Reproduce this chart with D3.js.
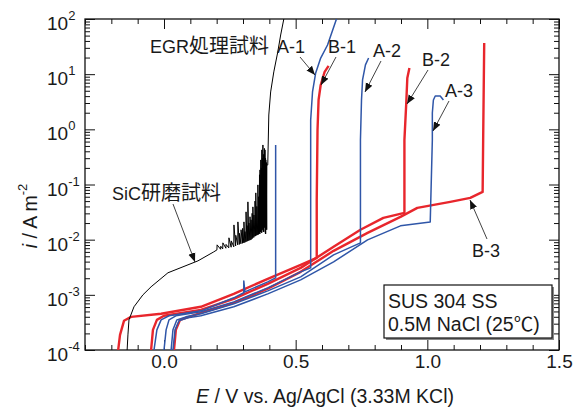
<!DOCTYPE html>
<html><head><meta charset="utf-8">
<script src="https://cdn.jsdelivr.net/npm/d3@7"></script>
<style>
body{margin:0;background:#fff}
text{font-family:"Liberation Sans",Arial,"Noto Sans CJK JP",sans-serif;fill:#1a1a1a}
</style>
</head><body><svg id="c" width="579" height="407"></svg>
<script>
// ---------- data (E / V, i / A m^-2) ----------
const xTicks = [0.0, 0.5, 1.0, 1.5];
const xTickLabels = ["0.0", "0.5", "1.0", "1.5"];
const yExponents = [-4, -3, -2, -1, 0, 1, 2];

// SiC polished sample (black)
const sicBase = [[-0.140,1.0e-4],[-0.137,1.88e-4],[-0.133,3.52e-4],[-0.114,6.07e-4],[-0.080,1.0e-3],[-0.049,1.40e-3],[0.015,2.51e-3],[0.129,4.13e-3],[0.189,6.01e-3]];
const sicNoiseE    = [0.201,0.215,0.223,0.235,0.246,0.255,0.265,0.272,0.280,0.286,0.292,0.298,0.303,0.307,0.311,0.315,0.318,0.322,0.326,0.330,0.334,0.337,0.341,0.345,0.348,0.352,0.356,0.359,0.362,0.364,0.366,0.367,0.369,0.371,0.373,0.375,0.377,0.379,0.381,0.383,0.385,0.386,0.388,0.390];
const sicNoiseBase = [6.53e-3,6.7e-3,6.81e-3,7.0e-3,7.10e-3,7.3e-3,7.41e-3,7.7e-3,8.05e-3,8.2e-3,8.40e-3,8.6e-3,8.75e-3,8.9e-3,9.12e-3,9.3e-3,9.51e-3,9.6e-3,9.8e-3,9.91e-3,1.03e-2,1.08e-2,1.1e-2,1.15e-2,1.17e-2,1.2e-2,1.22e-2,1.25e-2,1.3e-2,1.27e-2,1.4e-2,1.38e-2,1.5e-2,1.33e-2,1.6e-2,1.51e-2,1.4e-2,1.38e-2,1.7e-2,1.64e-2,1.3e-2,1.27e-2,1.6e-2,1.51e-2];
const sicNoisePeak = [8.05e-3,7.6e-3,8.75e-3,8.2e-3,1.08e-2,9.5e-3,1.85e-2,1.2e-2,2.10e-2,1.3e-2,1.51e-2,1.6e-2,2.10e-2,1.4e-2,3.19e-2,1.8e-2,4.84e-2,2.0e-2,2.6e-2,2.29e-2,3.0e-2,3.93e-2,2.8e-2,5.0e-2,7.05e-2,4.0e-2,9.84e-2,6.0e-2,0.15,0.184,0.12,0.279,0.2,0.424,0.3,0.521,0.35,0.344,0.45,0.424,0.3,0.279,0.25,0.226];
const sicRise = [[0.394,0.226],[0.398,1.82],[0.405,4.76],[0.417,11.0],[0.432,25.2],[0.443,51.3],[0.455,100]];

// EGR treated samples
const A0 = [[-0.038,1.0e-4],[-0.027,2.32e-4],[-0.011,3.52e-4],[0.019,4.17e-4],[0.140,5.13e-4],[0.265,8.83e-4],[0.303,1.09e-3],[0.303,1.79e-3],[0.307,1.13e-3],[0.394,1.72e-3],[0.424,2.03e-3],[0.424,0.521]];
const A1 = [[0.000,1.0e-4],[0.008,2.32e-4],[0.019,3.52e-4],[0.045,4.17e-4],[0.140,4.92e-4],[0.265,7.46e-4],[0.394,1.34e-3],[0.519,2.61e-3],[0.557,3.08e-3],[0.557,1.48],[0.564,4.76],[0.576,10.5],[0.595,19.6],[0.621,33.8],[0.655,100]];
const B1 = [[-0.174,1.0e-4],[-0.167,1.88e-4],[-0.152,3.38e-4],[-0.125,3.99e-4],[-0.011,4.53e-4],[0.140,6.07e-4],[0.265,1.04e-3],[0.394,1.95e-3],[0.519,3.49e-3],[0.580,4.68e-3],[0.580,5.26e-2],[0.583,0.975],[0.587,3.41],[0.595,6.37],[0.610,11.0],[0.625,14.1]];
const A2 = [[0.027,1.0e-4],[0.034,2.32e-4],[0.049,3.52e-4],[0.083,3.99e-4],[0.140,4.53e-4],[0.265,6.87e-4],[0.394,1.18e-3],[0.519,2.12e-3],[0.644,5.31e-3],[0.746,8.75e-3],[0.746,0.643],[0.750,3.41],[0.754,7.85],[0.765,14.7],[0.777,19.6]];
const B2 = [[-0.049,1.0e-4],[-0.042,2.32e-4],[-0.027,3.52e-4],[0.000,4.17e-4],[0.140,5.35e-4],[0.265,8.47e-4],[0.394,1.58e-3],[0.519,3.08e-3],[0.644,7.41e-3],[0.746,1.51e-2],[0.833,2.48e-2],[0.913,3.06e-2],[0.913,0.643],[0.920,3.01],[0.924,8.53],[0.932,12.9]];
const A3 = [[0.034,1.0e-4],[0.042,2.32e-4],[0.057,3.38e-4],[0.091,3.83e-4],[0.140,4.17e-4],[0.265,6.07e-4],[0.394,1.04e-3],[0.519,1.87e-3],[0.644,3.96e-3],[0.773,9.91e-3],[0.898,1.78e-2],[1.011,2.10e-2],[1.019,0.643],[1.019,1.98],[1.023,3.41],[1.030,4.03],[1.049,4.03],[1.061,3.41]];
const B3 = [[0.038,1.0e-4],[0.045,2.32e-4],[0.061,3.52e-4],[0.095,3.99e-4],[0.140,4.72e-4],[0.265,7.16e-4],[0.394,1.29e-3],[0.519,2.61e-3],[0.644,6.27e-3],[0.773,1.33e-2],[0.898,2.59e-2],[0.962,3.77e-2],[1.087,4.84e-2],[1.163,5.71e-2],[1.210,7.35e-2],[1.212,0.643],[1.216,36.7]];

// ---------- layout ----------
const BLUE = "#2f56a8", RED = "#e8262c";
const svg = d3.select("#c");
const L = 85, R = 559, T = 19, B = 350;
const x = d3.scaleLinear().domain([-0.3, 1.5]).range([L, R]);
const y = d3.scaleLog().domain([1e-4, 1e2]).range([B, T]);

const defs = svg.append("defs");
defs.append("clipPath").attr("id","clip")
  .append("rect").attr("x",L).attr("y",T).attr("width",R-L).attr("height",B-T);
defs.append("marker").attr("id","arr").attr("viewBox","0 0 10 10").attr("refX",10).attr("refY",5)
  .attr("markerWidth",9).attr("markerHeight",9).attr("markerUnits","userSpaceOnUse").attr("orient","auto")
  .append("path").attr("d","M0,1 L10,5 L0,9 Z").attr("fill","#111");

// ticks
const minorX = d3.range(-3, 16).map(k => k/10).filter(v => !xTicks.some(t => Math.abs(t-v) < 1e-9));
const minorY = [];
yExponents.slice(0,-1).forEach(e => { for (let m=2;m<=9;m++) minorY.push(m*Math.pow(10,e)); });
const majorY = yExponents.map(e => Math.pow(10,e));

function strip(g){ g.select(".domain").remove(); g.selectAll("line").attr("stroke","#111"); }
svg.append("g").attr("transform",`translate(0,${B})`).call(d3.axisBottom(x).tickValues(minorX).tickSize(-5).tickFormat("")).call(strip);
svg.append("g").attr("transform",`translate(0,${T})`).call(d3.axisTop(x).tickValues(minorX).tickSize(-5).tickFormat("")).call(strip);
svg.append("g").attr("transform",`translate(0,${T})`).call(d3.axisTop(x).tickValues(xTicks).tickSize(-10).tickFormat("")).call(strip);
const xb = svg.append("g").attr("transform",`translate(0,${B})`)
  .call(d3.axisBottom(x).tickValues(xTicks).tickSize(-10).tickPadding(5).tickFormat((d,i)=>xTickLabels[i])).call(strip);
xb.selectAll("text").attr("font-size",19).attr("fill","#1a1a1a").attr("font-family",null);

svg.append("g").attr("transform",`translate(${L},0)`).call(d3.axisLeft(y).tickValues(minorY).tickSize(-5).tickFormat("")).call(strip);
svg.append("g").attr("transform",`translate(${L},0)`).call(d3.axisLeft(y).tickValues(majorY).tickSize(-10).tickFormat("")).call(strip);
svg.append("g").attr("transform",`translate(${R},0)`).call(d3.axisRight(y).tickValues(minorY).tickSize(-5).tickFormat("")).call(strip);
svg.append("g").attr("transform",`translate(${R},0)`).call(d3.axisRight(y).tickValues(majorY).tickSize(-10).tickFormat("")).call(strip);

// y tick labels 10^n
yExponents.forEach(e => {
  const yy = y(Math.pow(10,e));
  const t = svg.append("text").attr("x",47).attr("y",yy+11).attr("font-size",19);
  t.append("tspan").text("10");
  t.append("tspan").attr("font-size",13).attr("dy",-10).text(e < 0 ? "-" + (-e) : String(e));
});

// frame
svg.append("rect").attr("x",L).attr("y",T).attr("width",R-L).attr("height",B-T)
  .attr("fill","none").attr("stroke","#111").attr("stroke-width",1.3);

// curves
const line = d3.line().x(d => x(d[0])).y(d => y(d[1]));
const plot = svg.append("g").attr("clip-path","url(#clip)");
const sicAll = sicBase.slice();
sicNoiseE.forEach((e,k) => { sicAll.push([e, sicNoiseBase[k]]); sicAll.push([e + 0.0006, sicNoisePeak[k]]); });
sicRise.forEach(p => sicAll.push(p));

const series = [
  {d: B1, c: RED, w: 2.4},
  {d: B2, c: RED, w: 2.4},
  {d: B3, c: RED, w: 2.4},
  {d: A0, c: BLUE, w: 1.5},
  {d: A1, c: BLUE, w: 1.5},
  {d: A2, c: BLUE, w: 1.5},
  {d: A3, c: BLUE, w: 1.5},
  {d: sicAll, c: "#000", w: 1.0}
];
series.forEach(s => plot.append("path").attr("d", line(s.d)).attr("fill","none")
  .attr("stroke", s.c).attr("stroke-width", s.w).attr("stroke-linejoin","round"));

// annotations (pixel layout)
const notes = [
  {parts:[["EGR",18],["処理試料",20]], x:150, y:53, a:null},
  {parts:[["SiC",18],["研磨試料",20]], x:112, y:200, a:[173,204,195,262]},
  {parts:[["A-1",18]], x:277, y:53, a:[300,57,315,75]},
  {parts:[["B-1",18]], x:328, y:53, a:[336,57,321,85]},
  {parts:[["A-2",18]], x:373, y:57, a:[381,61,365,92]},
  {parts:[["B-2",18]], x:422, y:66, a:[428,70,407,104]},
  {parts:[["A-3",18]], x:445, y:97, a:[449,101,433,131]},
  {parts:[["B-3",18]], x:472, y:257, a:[487,239,470,200]}
];
notes.forEach(n => {
  const t = svg.append("text").attr("x",n.x).attr("y",n.y);
  n.parts.forEach(p => t.append("tspan").attr("font-size",p[1]).text(p[0]));
  if (n.a) svg.append("line").attr("x1",n.a[0]).attr("y1",n.a[1]).attr("x2",n.a[2]).attr("y2",n.a[3])
    .attr("stroke","#111").attr("stroke-width",0.8).attr("marker-end","url(#arr)");
});

// condition box
svg.append("rect").attr("x",386).attr("y",287).attr("width",168).attr("height",53).attr("fill","#888");
svg.append("rect").attr("x",384).attr("y",285).attr("width",168).attr("height",53)
  .attr("fill","#fff").attr("stroke","#111").attr("stroke-width",1.2);
svg.append("text").attr("x",388).attr("y",308).attr("font-size",19.5).text("SUS 304 SS");
svg.append("text").attr("x",388).attr("y",331).attr("font-size",19.5).text("0.5M NaCl (25℃)");

// axis titles
const xt = svg.append("text").attr("x",(L+R)/2+3).attr("y",403).attr("text-anchor","middle").attr("font-size",19.5);
xt.append("tspan").attr("font-style","italic").text("E");
xt.append("tspan").text(" / V vs. Ag/AgCl (3.33M KCl)");
const yt = svg.append("text").attr("transform","translate(37,216) rotate(-90)").attr("text-anchor","middle").attr("font-size",19.5);
yt.append("tspan").attr("font-style","italic").text("i");
yt.append("tspan").text(" / A m");
yt.append("tspan").attr("font-size",13).attr("dy",-10).text("-2");
</script></body></html>
